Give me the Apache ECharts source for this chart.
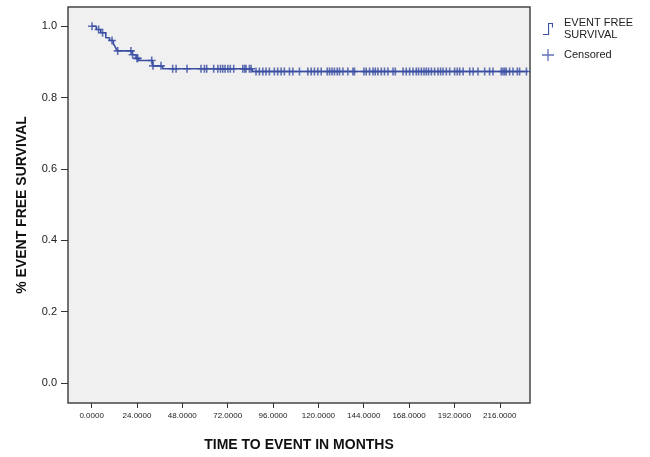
<!DOCTYPE html>
<html>
<head>
<meta charset="utf-8">
<script src="https://cdn.jsdelivr.net/npm/echarts@6/dist/echarts.min.js"></script>
<style>
html,body{margin:0;padding:0;background:#fff;}
#chart{width:650px;height:457px;}
</style>
</head>
<body>
<div id="chart"></div>
<script>
// ---- data ----
var eventTimes = [0, 2.5, 4.8, 7.5, 9.5, 11.5, 12.5, 13.5, 21.5, 23.5, 25, 32.3, 37.6, 85.0, 231];
var survival   = [1.0, 0.991, 0.982, 0.968, 0.960, 0.951, 0.942, 0.931, 0.920, 0.910, 0.904, 0.889, 0.881, 0.873, 0.873];
var censoredTimes = [0.2, 3.7, 5.8, 10.8, 13.8, 20.8, 21.7, 24.0, 24.4, 31.8, 32.5, 36.7, 42.9, 44.7, 50.5,
  57.9, 59.7, 60.9, 64.6, 66.8, 68.2, 69.4, 70.6, 72.1, 73.4, 75.2, 80.0, 81.0, 81.7, 83.5, 84.4,
  87.0, 88.8, 90.6, 92.3, 94.1, 96.7, 98.5, 100.3, 102.0, 104.7, 106.5, 110.0, 114.4, 116.2, 117.9,
  119.7, 121.5, 124.7, 125.9, 127.2, 128.5, 130.0, 131.2, 133.0, 135.6, 138.3, 139.1, 144.1, 145.3,
  147.1, 148.9, 150.1, 151.5, 153.3, 155.0, 156.8, 159.5, 160.7, 164.8, 166.5, 168.3, 170.1, 171.8,
  173.0, 174.5, 175.9, 177.1, 178.3, 179.8, 181.5, 183.3, 184.7, 186.0, 187.7, 189.5, 192.1, 193.5,
  194.8, 196.6, 200.1, 201.9, 204.5, 208.0, 210.6, 212.4, 216.8, 217.7, 218.6, 219.4, 221.2, 223.0,
  225.3, 226.5, 230.1];
var xTicks = [0, 24, 48, 72, 96, 120, 144, 168, 192, 216];
var yTicks = [0, 0.2, 0.4, 0.6, 0.8, 1.0];

// ---- derived ----
function survAt(t) {
  var s = survival[0];
  for (var i = 0; i < eventTimes.length; i++) { if (eventTimes[i] <= t) s = survival[i]; }
  return s;
}
var curveData = eventTimes.map(function (t, i) { return [t, survival[i]]; });
var censData = censoredTimes.map(function (t) { return [t, survAt(t)]; });

var BLUE = '#3B4FA3';
var FONT = "Arial, 'Liberation Sans', sans-serif";
var plusPath = 'path://M4,0H6V10H4ZM0,4H10V6H0Z';
var legendPlus = 'path://M4.45,0H5.55V10H4.45ZM0,4.45H10V5.55H0Z';
var stepPath = 'path://M0,21.8H10V0H20V9H17.8V2.2H12.2V24H0Z';

var chart = echarts.init(document.getElementById('chart'), null, {renderer: 'canvas'});
chart.setOption({
  animation: false,
  backgroundColor: '#ffffff',
  textStyle: {fontFamily: FONT},
  grid: {
    left: 68, right: 120, top: 7, bottom: 52,
    show: true, backgroundColor: '#F0F0F0', borderColor: '#444444', borderWidth: 1.5
  },
  legend: {
    orient: 'vertical', left: 537, top: 12, itemGap: 8,
    itemWidth: 22, itemHeight: 12, selectedMode: false,
    textStyle: {fontFamily: FONT, fontSize: 11, color: '#222', lineHeight: 12},
    formatter: function (n) { return n === 'EVENT FREE SURVIVAL' ? 'EVENT FREE\nSURVIVAL' : n; },
    data: [
      {name: 'EVENT FREE SURVIVAL', icon: stepPath},
      {name: 'Censored', icon: legendPlus}
    ]
  },
  xAxis: {
    type: 'value', min: -12.5, max: 232,
    name: 'TIME TO EVENT IN MONTHS', nameLocation: 'middle', nameGap: 35,
    nameTextStyle: {fontFamily: FONT, fontSize: 14, fontWeight: 'bold', color: '#111'},
    axisLine: {show: false, onZero: false},
    splitLine: {show: false},
    axisTick: {show: true, inside: false, length: 5, customValues: xTicks, lineStyle: {color: '#333', width: 1}},
    axisLabel: {customValues: xTicks, margin: 9, fontSize: 8, color: '#222', fontFamily: FONT,
      formatter: function (v) { return v.toFixed(4); }}
  },
  yAxis: {
    type: 'value', min: -0.056, max: 1.054,
    name: '% EVENT FREE SURVIVAL', nameLocation: 'middle', nameGap: 39,
    nameTextStyle: {fontFamily: FONT, fontSize: 14, fontWeight: 'bold', color: '#111'},
    axisLine: {show: false, onZero: false},
    splitLine: {show: false},
    axisTick: {show: true, inside: false, length: 7, customValues: yTicks, lineStyle: {color: '#333', width: 1}},
    axisLabel: {customValues: yTicks, margin: 11, fontSize: 11, color: '#222', fontFamily: FONT,
      formatter: function (v) { return v.toFixed(1); }}
  },
  series: [
    {
      name: 'EVENT FREE SURVIVAL', type: 'line', step: 'end', data: curveData,
      showSymbol: false, symbol: 'none', color: BLUE,
      lineStyle: {color: BLUE, width: 1.6}, z: 2
    },
    {
      name: 'Censored', type: 'scatter', data: censData,
      symbol: plusPath, symbolSize: 8, color: BLUE,
      itemStyle: {color: BLUE}, z: 3
    }
  ]
});
</script>
</body>
</html>
